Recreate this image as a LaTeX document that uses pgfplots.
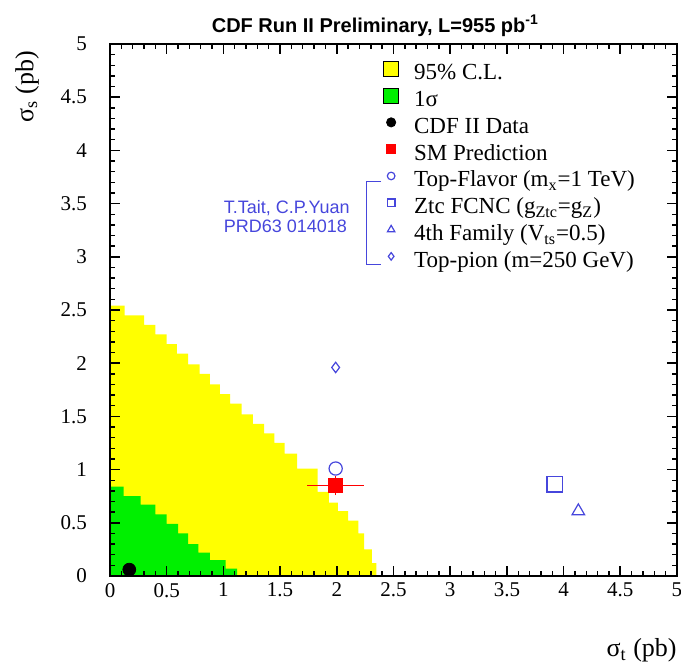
\documentclass[border=0pt]{standalone}
\usepackage{fontspec}
\setmainfont{Liberation Serif}
\newfontfamily\helv{Liberation Sans}
\usepackage{pgfplots}
\pgfplotsset{compat=1.18}
\definecolor{rootyellow}{RGB}{255,255,0}
\definecolor{rootgreen}{RGB}{0,240,0}
\definecolor{rootblue}{RGB}{70,70,220}
\pgfplotsset{
  markleg/.style={legend image code/.code={\path[draw=none,fill=none] (-6pt,-3pt) rectangle (6pt,9pt); \draw[mark size=#1] plot coordinates {(0pt,3.2pt)};}},
  boxleg/.style={legend image code/.code={\path[draw=none,fill=none] (-6pt,-3pt) rectangle (6pt,9pt); \draw[fill=#1,draw=black,line width=0.5pt] (-3.75pt,-0.55pt) rectangle (3.75pt,6.95pt);}},
  tk/.style={black, line width=0.8pt, forget plot, unbounded coords=jump, mark=none},
}
\begin{document}
\begin{tikzpicture}
\begin{axis}[
  at={(0pt,0pt)}, anchor=south west,
  scale only axis, width=283.5pt, height=266pt,
  xmin=0,xmax=5,ymin=0,ymax=5,
  set layers, clip=false,
  xtick={0,0.5,1,1.5,2,2.5,3,3.5,4,4.5,5},
  xticklabels={0,0.5,1,1.5,2,2.5,3,3.5,4,4.5,5},
  ytick={0,0.5,1,1.5,2,2.5,3,3.5,4,4.5,5},
  yticklabels={0,0.5,1,1.5,2,2.5,3,3.5,4,4.5,5},
  minor tick num=4,
  major tick length=5pt, minor tick length=2.7pt,
  tick style={black, line width=0.6pt},
  axis line style={line width=0.7pt},
  tick label style={font=\fontsize{10.5}{12}\selectfont},
  yticklabel style={xshift=-8pt},
  xlabel={σ\textsubscript{t} (pb)},
  xlabel style={at={(axis description cs:1,-0.152)}, anchor=base east, inner sep=0pt, font=\fontsize{13}{15}\selectfont},
  ylabel={σ\textsubscript{s} (pb)},
  ylabel style={at={(axis description cs:-0.146,0.988)}, anchor=east, inner sep=0pt, font=\fontsize{13}{15}\selectfont},
  legend style={at={(axis cs:2.37,4.88)}, anchor=north west, draw=none, fill=none,
    font=\fontsize{11.5}{13}\selectfont, row sep=-2.3pt, column sep=5.5pt, inner sep=0pt,
    nodes={inner sep=0pt, text height=9pt, text depth=4.4pt}},
  legend cell align=left,
]
% 95% C.L. region
\addplot[fill=rootyellow, draw=none, boxleg=rootyellow, on layer=axis background] coordinates {
(0,0) (2.35,0) (2.35,0.12) (2.31,0.12) (2.31,0.25) (2.24,0.25) (2.24,0.40) (2.19,0.40)
(2.19,0.52) (2.10,0.52) (2.10,0.61) (2.01,0.61) (2.01,0.69) (1.93,0.69) (1.93,0.79)
(1.83,0.79) (1.83,1.01) (1.65,1.01) (1.65,1.15) (1.54,1.15) (1.54,1.25) (1.45,1.25)
(1.45,1.34) (1.36,1.34) (1.36,1.43) (1.26,1.43) (1.26,1.52) (1.16,1.52) (1.16,1.62)
(1.06,1.62) (1.06,1.71) (0.97,1.71) (0.97,1.80) (0.88,1.80) (0.88,1.90) (0.79,1.90)
(0.79,1.99) (0.69,1.99) (0.69,2.09) (0.59,2.09) (0.59,2.18) (0.50,2.18) (0.50,2.27)
(0.40,2.27) (0.40,2.36) (0.30,2.36) (0.30,2.45) (0.13,2.45) (0.13,2.54) (0,2.54) (0,0)};
\addlegendentry{95\% C.L.}
% 1 sigma region
\addplot[fill=rootgreen, draw=none, boxleg=rootgreen, on layer=axis background] coordinates {
(0,0) (1.12,0) (1.12,0.07) (1.02,0.07) (1.02,0.15) (0.88,0.15) (0.88,0.22) (0.78,0.22)
(0.78,0.30) (0.69,0.30) (0.69,0.40) (0.60,0.40) (0.60,0.49) (0.50,0.49) (0.50,0.58)
(0.40,0.58) (0.40,0.67) (0.27,0.67) (0.27,0.75) (0.12,0.75) (0.12,0.84) (0,0.84) (0,0)};
\addlegendentry{1σ}
% CDF II data
\addplot[only marks, mark=*, black, mark size=3.2pt, markleg=2.3pt] coordinates {(0.17,0.06)};
\addlegendentry{CDF II Data}
% SM prediction: uncertainty bars, then the point
\addplot[red, line width=0.8pt, forget plot] coordinates {(1.74,0.85) (2.24,0.85)};
\addplot[red, line width=0.8pt, forget plot] coordinates {(1.99,0.76) (1.99,0.94)};
\addplot[only marks, mark=square*, color=red, mark size=3.4pt, markleg=2.2pt]
  coordinates {(1.99,0.85)};
\addlegendentry{SM Prediction}
% Top-flavor
\addplot[only marks, mark=o, rootblue, mark size=3.3pt, mark options={line width=0.6pt}, markleg=1.9pt] coordinates {(1.99,1.01)};
\addlegendentry{Top-Flavor (m\textsubscript{x}=1 TeV)}
% Ztc FCNC
\addplot[only marks, mark=square, rootblue, mark size=3.8pt, mark options={line width=0.6pt}, markleg=1.9pt] coordinates {(3.92,0.86)};
\addlegendentry{Ztc FCNC (g\textsubscript{Ztc}=g\textsubscript{Z})}
% 4th family
\addplot[only marks, mark=triangle, rootblue, mark size=3.6pt, mark options={line width=0.6pt}, markleg=2.1pt] coordinates {(4.13,0.61)};
\addlegendentry{4th Family (V\textsubscript{ts}=0.5)}
% Top-pion
\addplot[only marks, mark=diamond, rootblue, mark size=2.6pt, mark options={line width=0.6pt}, markleg=1.9pt] coordinates {(1.99,1.96)};
\addlegendentry{Top-pion (m=250 GeV)}

% frame ticks drawn as plotted segments: bottom and top major
\addplot[tk] coordinates {
(0.5,0) (0.5,0.094) (nan,nan) (1,0) (1,0.094) (nan,nan) (1.5,0) (1.5,0.094) (nan,nan)
(2,0) (2,0.094) (nan,nan) (2.5,0) (2.5,0.094) (nan,nan) (3,0) (3,0.094) (nan,nan)
(3.5,0) (3.5,0.094) (nan,nan) (4,0) (4,0.094) (nan,nan) (4.5,0) (4.5,0.094) (nan,nan)
(0.5,5) (0.5,4.906) (nan,nan) (1,5) (1,4.906) (nan,nan) (1.5,5) (1.5,4.906) (nan,nan)
(2,5) (2,4.906) (nan,nan) (2.5,5) (2.5,4.906) (nan,nan) (3,5) (3,4.906) (nan,nan)
(3.5,5) (3.5,4.906) (nan,nan) (4,5) (4,4.906) (nan,nan) (4.5,5) (4.5,4.906)};
% left and right major
\addplot[tk] coordinates {
(0,0.5) (0.088,0.5) (nan,nan) (0,1) (0.088,1) (nan,nan) (0,1.5) (0.088,1.5) (nan,nan)
(0,2) (0.088,2) (nan,nan) (0,2.5) (0.088,2.5) (nan,nan) (0,3) (0.088,3) (nan,nan)
(0,3.5) (0.088,3.5) (nan,nan) (0,4) (0.088,4) (nan,nan) (0,4.5) (0.088,4.5) (nan,nan)
(5,0.5) (4.912,0.5) (nan,nan) (5,1) (4.912,1) (nan,nan) (5,1.5) (4.912,1.5) (nan,nan)
(5,2) (4.912,2) (nan,nan) (5,2.5) (4.912,2.5) (nan,nan) (5,3) (4.912,3) (nan,nan)
(5,3.5) (4.912,3.5) (nan,nan) (5,4) (4.912,4) (nan,nan) (5,4.5) (4.912,4.5)};
% bottom minor
\addplot[tk, line width=0.7pt] coordinates {
(0.1,0) (0.1,0.051) (nan,nan) (0.2,0) (0.2,0.051) (nan,nan) (0.3,0) (0.3,0.051) (nan,nan) (0.4,0) (0.4,0.051) (nan,nan)
(0.6,0) (0.6,0.051) (nan,nan) (0.7,0) (0.7,0.051) (nan,nan) (0.8,0) (0.8,0.051) (nan,nan) (0.9,0) (0.9,0.051) (nan,nan)
(1.1,0) (1.1,0.051) (nan,nan) (1.2,0) (1.2,0.051) (nan,nan) (1.3,0) (1.3,0.051) (nan,nan) (1.4,0) (1.4,0.051) (nan,nan)
(1.6,0) (1.6,0.051) (nan,nan) (1.7,0) (1.7,0.051) (nan,nan) (1.8,0) (1.8,0.051) (nan,nan) (1.9,0) (1.9,0.051) (nan,nan)
(2.1,0) (2.1,0.051) (nan,nan) (2.2,0) (2.2,0.051) (nan,nan) (2.3,0) (2.3,0.051) (nan,nan) (2.4,0) (2.4,0.051) (nan,nan)
(2.6,0) (2.6,0.051) (nan,nan) (2.7,0) (2.7,0.051) (nan,nan) (2.8,0) (2.8,0.051) (nan,nan) (2.9,0) (2.9,0.051) (nan,nan)
(3.1,0) (3.1,0.051) (nan,nan) (3.2,0) (3.2,0.051) (nan,nan) (3.3,0) (3.3,0.051) (nan,nan) (3.4,0) (3.4,0.051) (nan,nan)
(3.6,0) (3.6,0.051) (nan,nan) (3.7,0) (3.7,0.051) (nan,nan) (3.8,0) (3.8,0.051) (nan,nan) (3.9,0) (3.9,0.051) (nan,nan)
(4.1,0) (4.1,0.051) (nan,nan) (4.2,0) (4.2,0.051) (nan,nan) (4.3,0) (4.3,0.051) (nan,nan) (4.4,0) (4.4,0.051) (nan,nan)
(4.6,0) (4.6,0.051) (nan,nan) (4.7,0) (4.7,0.051) (nan,nan) (4.8,0) (4.8,0.051) (nan,nan) (4.9,0) (4.9,0.051)};
% top minor
\addplot[tk, line width=0.7pt] coordinates {
(0.1,5) (0.1,4.949) (nan,nan) (0.2,5) (0.2,4.949) (nan,nan) (0.3,5) (0.3,4.949) (nan,nan) (0.4,5) (0.4,4.949) (nan,nan)
(0.6,5) (0.6,4.949) (nan,nan) (0.7,5) (0.7,4.949) (nan,nan) (0.8,5) (0.8,4.949) (nan,nan) (0.9,5) (0.9,4.949) (nan,nan)
(1.1,5) (1.1,4.949) (nan,nan) (1.2,5) (1.2,4.949) (nan,nan) (1.3,5) (1.3,4.949) (nan,nan) (1.4,5) (1.4,4.949) (nan,nan)
(1.6,5) (1.6,4.949) (nan,nan) (1.7,5) (1.7,4.949) (nan,nan) (1.8,5) (1.8,4.949) (nan,nan) (1.9,5) (1.9,4.949) (nan,nan)
(2.1,5) (2.1,4.949) (nan,nan) (2.2,5) (2.2,4.949) (nan,nan) (2.3,5) (2.3,4.949) (nan,nan) (2.4,5) (2.4,4.949) (nan,nan)
(2.6,5) (2.6,4.949) (nan,nan) (2.7,5) (2.7,4.949) (nan,nan) (2.8,5) (2.8,4.949) (nan,nan) (2.9,5) (2.9,4.949) (nan,nan)
(3.1,5) (3.1,4.949) (nan,nan) (3.2,5) (3.2,4.949) (nan,nan) (3.3,5) (3.3,4.949) (nan,nan) (3.4,5) (3.4,4.949) (nan,nan)
(3.6,5) (3.6,4.949) (nan,nan) (3.7,5) (3.7,4.949) (nan,nan) (3.8,5) (3.8,4.949) (nan,nan) (3.9,5) (3.9,4.949) (nan,nan)
(4.1,5) (4.1,4.949) (nan,nan) (4.2,5) (4.2,4.949) (nan,nan) (4.3,5) (4.3,4.949) (nan,nan) (4.4,5) (4.4,4.949) (nan,nan)
(4.6,5) (4.6,4.949) (nan,nan) (4.7,5) (4.7,4.949) (nan,nan) (4.8,5) (4.8,4.949) (nan,nan) (4.9,5) (4.9,4.949)};
% left minor
\addplot[tk, line width=0.7pt] coordinates {
(0,0.1) (0.048,0.1) (nan,nan) (0,0.2) (0.048,0.2) (nan,nan) (0,0.3) (0.048,0.3) (nan,nan) (0,0.4) (0.048,0.4) (nan,nan)
(0,0.6) (0.048,0.6) (nan,nan) (0,0.7) (0.048,0.7) (nan,nan) (0,0.8) (0.048,0.8) (nan,nan) (0,0.9) (0.048,0.9) (nan,nan)
(0,1.1) (0.048,1.1) (nan,nan) (0,1.2) (0.048,1.2) (nan,nan) (0,1.3) (0.048,1.3) (nan,nan) (0,1.4) (0.048,1.4) (nan,nan)
(0,1.6) (0.048,1.6) (nan,nan) (0,1.7) (0.048,1.7) (nan,nan) (0,1.8) (0.048,1.8) (nan,nan) (0,1.9) (0.048,1.9) (nan,nan)
(0,2.1) (0.048,2.1) (nan,nan) (0,2.2) (0.048,2.2) (nan,nan) (0,2.3) (0.048,2.3) (nan,nan) (0,2.4) (0.048,2.4) (nan,nan)
(0,2.6) (0.048,2.6) (nan,nan) (0,2.7) (0.048,2.7) (nan,nan) (0,2.8) (0.048,2.8) (nan,nan) (0,2.9) (0.048,2.9) (nan,nan)
(0,3.1) (0.048,3.1) (nan,nan) (0,3.2) (0.048,3.2) (nan,nan) (0,3.3) (0.048,3.3) (nan,nan) (0,3.4) (0.048,3.4) (nan,nan)
(0,3.6) (0.048,3.6) (nan,nan) (0,3.7) (0.048,3.7) (nan,nan) (0,3.8) (0.048,3.8) (nan,nan) (0,3.9) (0.048,3.9) (nan,nan)
(0,4.1) (0.048,4.1) (nan,nan) (0,4.2) (0.048,4.2) (nan,nan) (0,4.3) (0.048,4.3) (nan,nan) (0,4.4) (0.048,4.4) (nan,nan)
(0,4.6) (0.048,4.6) (nan,nan) (0,4.7) (0.048,4.7) (nan,nan) (0,4.8) (0.048,4.8) (nan,nan) (0,4.9) (0.048,4.9)};
% right minor
\addplot[tk, line width=0.7pt] coordinates {
(5,0.1) (4.952,0.1) (nan,nan) (5,0.2) (4.952,0.2) (nan,nan) (5,0.3) (4.952,0.3) (nan,nan) (5,0.4) (4.952,0.4) (nan,nan)
(5,0.6) (4.952,0.6) (nan,nan) (5,0.7) (4.952,0.7) (nan,nan) (5,0.8) (4.952,0.8) (nan,nan) (5,0.9) (4.952,0.9) (nan,nan)
(5,1.1) (4.952,1.1) (nan,nan) (5,1.2) (4.952,1.2) (nan,nan) (5,1.3) (4.952,1.3) (nan,nan) (5,1.4) (4.952,1.4) (nan,nan)
(5,1.6) (4.952,1.6) (nan,nan) (5,1.7) (4.952,1.7) (nan,nan) (5,1.8) (4.952,1.8) (nan,nan) (5,1.9) (4.952,1.9) (nan,nan)
(5,2.1) (4.952,2.1) (nan,nan) (5,2.2) (4.952,2.2) (nan,nan) (5,2.3) (4.952,2.3) (nan,nan) (5,2.4) (4.952,2.4) (nan,nan)
(5,2.6) (4.952,2.6) (nan,nan) (5,2.7) (4.952,2.7) (nan,nan) (5,2.8) (4.952,2.8) (nan,nan) (5,2.9) (4.952,2.9) (nan,nan)
(5,3.1) (4.952,3.1) (nan,nan) (5,3.2) (4.952,3.2) (nan,nan) (5,3.3) (4.952,3.3) (nan,nan) (5,3.4) (4.952,3.4) (nan,nan)
(5,3.6) (4.952,3.6) (nan,nan) (5,3.7) (4.952,3.7) (nan,nan) (5,3.8) (4.952,3.8) (nan,nan) (5,3.9) (4.952,3.9) (nan,nan)
(5,4.1) (4.952,4.1) (nan,nan) (5,4.2) (4.952,4.2) (nan,nan) (5,4.3) (4.952,4.3) (nan,nan) (5,4.4) (4.952,4.4) (nan,nan)
(5,4.6) (4.952,4.6) (nan,nan) (5,4.7) (4.952,4.7) (nan,nan) (5,4.8) (4.952,4.8) (nan,nan) (5,4.9) (4.952,4.9)};

\node[anchor=base, font=\helv\bfseries\fontsize{10}{12}\selectfont, inner sep=0pt] at (axis description cs:0.468,1.0225) {CDF Run II Preliminary, L=955 pb\textsuperscript{-1}};
\node[anchor=west, font=\helv\fontsize{9}{10}\selectfont, text=rootblue, inner sep=0pt] at (axis cs:1.0,3.46) {T.Tait, C.P.Yuan};
\node[anchor=west, font=\helv\fontsize{9}{10}\selectfont, text=rootblue, inner sep=0pt] at (axis cs:1.0,3.29) {PRD63 014018};
\draw[rootblue, line width=0.6pt] (axis cs:2.39,3.71) -- (axis cs:2.265,3.71) -- (axis cs:2.265,2.93) -- (axis cs:2.39,2.93);
\end{axis}
\pgfresetboundingbox
\path[use as bounding box] (-55pt,-44pt) rectangle (285.5pt,288pt);
\end{tikzpicture}
\end{document}
